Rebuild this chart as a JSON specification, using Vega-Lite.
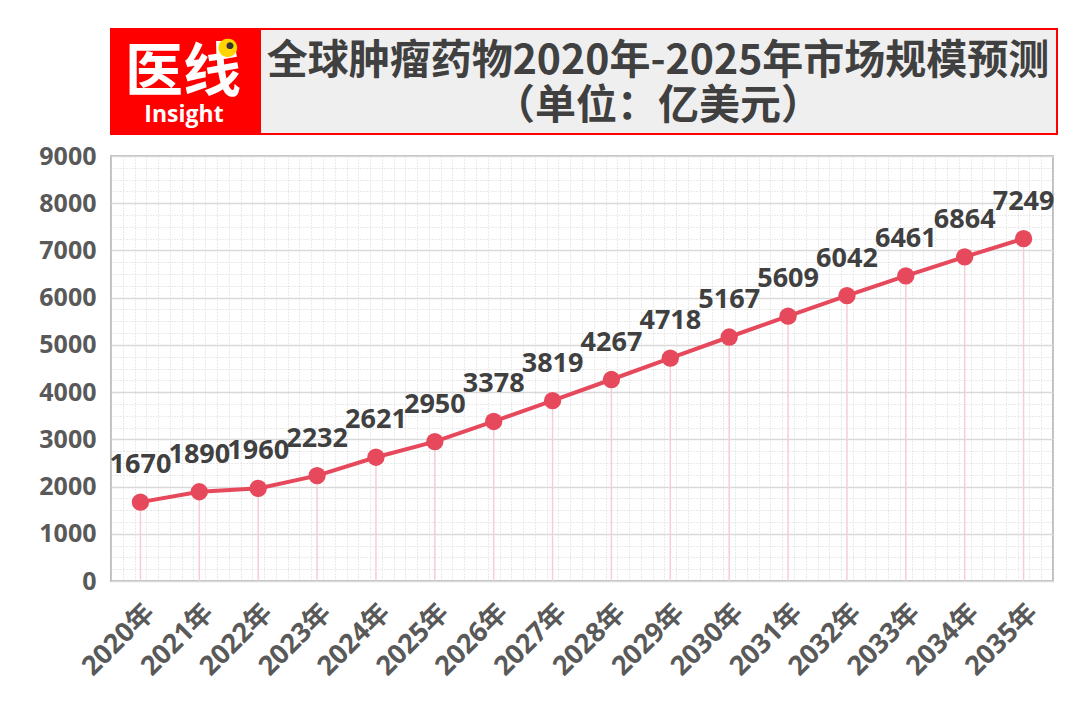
{
  "$schema": "https://vega.github.io/schema/vega-lite/v6.json",
  "background": "#ffffff",
  "padding": {"left": 37, "top": 28, "right": 24, "bottom": 45},
  "bounds": "flush",
  "spacing": 22,
  "config": {
    "font": "Open Sans, Noto Sans CJK SC",
    "view": {"stroke": null}
  },
  "datasets": {
    "market": [
      {"year": "2020年", "value": 1670},
      {"year": "2021年", "value": 1890},
      {"year": "2022年", "value": 1960},
      {"year": "2023年", "value": 2232},
      {"year": "2024年", "value": 2621},
      {"year": "2025年", "value": 2950},
      {"year": "2026年", "value": 3378},
      {"year": "2027年", "value": 3819},
      {"year": "2028年", "value": 4267},
      {"year": "2029年", "value": 4718},
      {"year": "2030年", "value": 5167},
      {"year": "2031年", "value": 5609},
      {"year": "2032年", "value": 6042},
      {"year": "2033年", "value": 6461},
      {"year": "2034年", "value": 6864},
      {"year": "2035年", "value": 7249}
    ]
  },
  "vconcat": [
    {
      "width": 946,
      "height": 105,
      "view": {"fill": "#efefef", "stroke": "#ff0000", "strokeWidth": 2},
      "data": {"values": [{"logo": "医线", "sub": "Insight", "dot": "●", "title": "全球肿瘤药物2020年-2025年市场规模预测\n（单位：亿美元）"}]},
      "layer": [
        {
          "mark": {"type": "rect", "color": "#ff0000"},
          "encoding": {
            "x": {"datum": "logo", "type": "nominal", "scale": {"domain": ["logo"], "range": [0, 150], "paddingInner": 0, "paddingOuter": 0}, "axis": null}
          }
        },
        {
          "mark": {"type": "text", "font": "Noto Sans CJK SC", "fontWeight": "bold", "fontSize": 58, "color": "#ffffff", "baseline": "middle", "dx": -401, "dy": -8},
          "encoding": {"text": {"field": "logo"}}
        },
        {
          "mark": {"type": "text", "font": "Open Sans", "fontWeight": "bold", "fontSize": 23, "color": "#ffffff", "baseline": "middle", "dx": -400, "dy": 33},
          "encoding": {"text": {"field": "sub"}}
        },
        {
          "mark": {"type": "text", "font": "DejaVu Sans", "fontSize": 24, "color": "#ffd400", "baseline": "middle", "dx": -356, "dy": -35},
          "encoding": {"text": {"field": "dot"}}
        },
        {
          "mark": {"type": "text", "font": "DejaVu Sans", "fontSize": 9, "color": "#333333", "baseline": "middle", "dx": -354, "dy": -37},
          "encoding": {"text": {"field": "dot"}}
        },
        {
          "mark": {"type": "text", "font": "Noto Sans CJK SC", "fontWeight": "bold", "fontSize": 41, "color": "#404040", "lineBreak": "\n", "lineHeight": 45, "baseline": "middle", "dx": 74, "dy": -20},
          "encoding": {"text": {"field": "title"}}
        }
      ]
    },
    {
      "width": 942,
      "height": 425,
      "data": {"name": "market"},
      "view": {"stroke": "#bfbfbf", "strokeWidth": 2, "fill": "#ffffff"},
      "resolve": {"scale": {"x": "independent"}},
      "layer": [
        {
          "mark": {"type": "point", "opacity": 0},
          "encoding": {
            "x": {
              "datum": 0,
              "type": "quantitative",
              "scale": {"domain": [0, 80], "nice": false, "zero": false},
              "axis": {"orient": "top", "tickCount": 80, "grid": true, "gridDash": [1, 2], "gridColor": "#d4d4d4", "gridWidth": 1, "labels": false, "ticks": false, "domain": false, "title": null}
            }
          }
        },
        {
          "encoding": {
            "x": {"field": "year", "type": "nominal", "sort": null, "scale": {"type": "point", "padding": 0.5},
              "axis": {"title": null, "labelAngle": -45, "labelFontSize": 27, "labelFontWeight": "bold", "labelColor": "#595959", "labelPadding": 18, "ticks": false, "domain": false, "grid": false}},
            "y": {"field": "value", "type": "quantitative", "scale": {"domain": [0, 9000], "nice": false},
              "axis": {
                "title": null,
                "values": [0, 250, 500, 750, 1000, 1250, 1500, 1750, 2000, 2250, 2500, 2750, 3000, 3250, 3500, 3750, 4000, 4250, 4500, 4750, 5000, 5250, 5500, 5750, 6000, 6250, 6500, 6750, 7000, 7250, 7500, 7750, 8000, 8250, 8500, 8750, 9000],
                "labelExpr": "datum.value % 1000 === 0 ? datum.label : ''",
                "format": "d",
                "labelFontSize": 25, "labelFontWeight": "bold", "labelColor": "#595959", "labelPadding": 15,
                "ticks": false, "domain": false,
                "grid": true,
                "gridColor": {"condition": {"test": "datum.value % 1000 === 0", "value": "#d9d9d9"}, "value": "#d4d4d4"},
                "gridDash": {"condition": {"test": "datum.value % 1000 === 0", "value": []}, "value": [1, 2]},
                "gridWidth": {"condition": {"test": "datum.value % 1000 === 0", "value": 1.5}, "value": 1}
              }}
          },
          "layer": [
            {
              "mark": {"type": "rule", "color": "#f6cdd4", "strokeWidth": 1.5},
              "encoding": {"y2": {"datum": 0}}
            },
            {
              "mark": {"type": "line", "color": "#e6495c", "strokeWidth": 4},
              "encoding": {}
            },
            {
              "mark": {"type": "point", "filled": true, "opacity": 1, "size": 300, "color": "#e6495c"},
              "encoding": {}
            },
            {
              "mark": {"type": "text", "fontSize": 27, "fontWeight": "bold", "color": "#404040", "baseline": "alphabetic", "dy": -29},
              "encoding": {
                "text": {"field": "value", "type": "quantitative", "format": "d"}
              }
            }
          ]
        }
      ]
    }
  ]
}
